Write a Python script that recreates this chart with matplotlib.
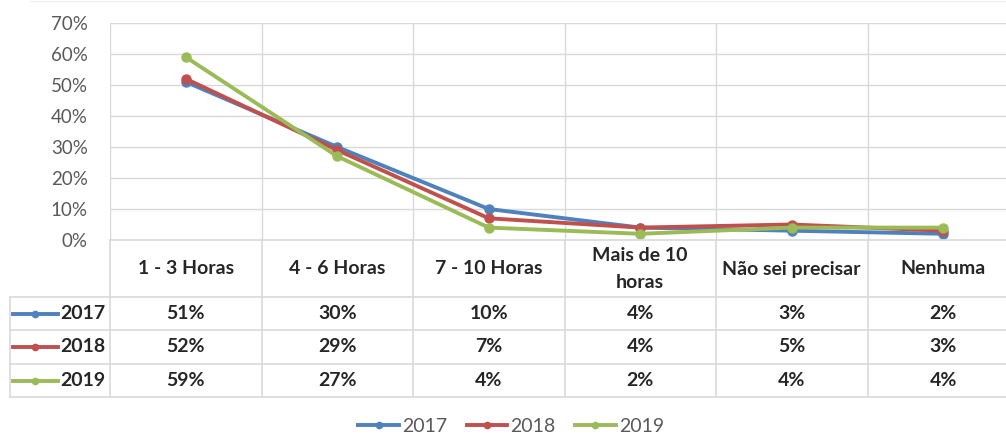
import matplotlib
matplotlib.use("Agg")
import matplotlib.pyplot as plt
from matplotlib.lines import Line2D
from matplotlib import transforms
import numpy as np

categories = ["1 - 3 Horas", "4 - 6 Horas", "7 - 10 Horas", "Mais de 10\nhoras", "Não sei precisar", "Nenhuma"]
series_names = ["2017", "2018", "2019"]
v2017 = [51, 30, 10, 4, 3, 2]
v2018 = [52, 29, 7, 4, 5, 3]
v2019 = [59, 27, 4, 2, 4, 4]
values = [v2017, v2018, v2019]
colors = ["#4F81BD", "#C0504D", "#9BBB59"]
yticks = [0, 10, 20, 30, 40, 50, 60, 70]

W, H = 1006, 437
fig = plt.figure(figsize=(W / 100, H / 100), dpi=100)
plt.rcParams['font.family'] = ['Lato', 'DejaVu Sans']

def fx(x):
    return x / W

def fy(y):
    return 1 - y / H

FS = 14
TXT = "#262626"
plot_left, plot_right, plot_top, plot_bottom = 110, 1019, 23, 240
ax = fig.add_axes([fx(plot_left), fy(plot_bottom), (plot_right - plot_left) / W, (plot_bottom - plot_top) / H])
n = len(categories)
ax.set_xlim(0, n)
ax.set_ylim(0, 70)
for s in ax.spines.values():
    s.set_visible(False)
ax.set_yticks(yticks)
ax.set_yticklabels([f"{t}%" for t in yticks], color="#595959", fontsize=13.5)
ax.set_xticks(range(n + 1))
ax.set_xticklabels([])
ax.tick_params(length=0, pad=16)
ax.grid(True, color="#D9D9D9", linewidth=1)
ax.set_axisbelow(True)

xs = np.arange(n) + 0.5
for name, vals, c in zip(series_names, values, colors):
    ax.plot(xs, vals, color=c, linewidth=2.8, marker="o", markersize=6.5, label=name,
            solid_capstyle="round", clip_on=False, zorder=3)

grid_c = "#D9D9D9"
fig.add_artist(Line2D([fx(30), fx(W)], [fy(1), fy(1)], color="#F0F0F0", linewidth=1))
# table lines
rows_y = [240, 297, 330, 364, 397]
for i, y in enumerate(rows_y):
    x0 = plot_left if i == 0 else 10
    fig.add_artist(Line2D([fx(x0), fx(W + 20)], [fy(y), fy(y)], color=grid_c, linewidth=1.2))
fig.add_artist(Line2D([fx(10), fx(10)], [fy(297), fy(397)], color=grid_c, linewidth=1.2))
bt = transforms.blended_transform_factory(ax.transData, fig.transFigure)
for i in range(n + 1):
    fig.add_artist(Line2D([i, i], [fy(240), fy(397)], color=grid_c, linewidth=1.2, transform=bt))

# header
for i, cat in enumerate(categories):
    fig.text(i + 0.5, fy(269), cat, transform=bt, ha="center", va="center",
             fontsize=FS, fontweight="bold", color=TXT, linespacing=1.65)

# data rows
row_centers = [313.5, 347, 380.5]
for r, (name, vals, c) in enumerate(zip(series_names, values, colors)):
    yc = fy(row_centers[r])
    for i, v in enumerate(vals):
        fig.text(i + 0.5, yc, f"{v}%", transform=bt, ha="center", va="center",
                 fontsize=FS, fontweight="bold", color=TXT)
    fig.add_artist(Line2D([fx(13), fx(58)], [yc, yc], color=c, linewidth=2.8))
    fig.add_artist(Line2D([fx(35)], [yc], color=c, marker="o", markersize=4.5, linestyle="none"))
    fig.text(fx(60), yc, name, ha="left", va="center", fontsize=FS, fontweight="bold", color=TXT)

handles = [Line2D([0], [0], color=c, linewidth=2.8, marker="o", markersize=4.5) for c in colors]
fig.legend(handles, series_names, loc="center", bbox_to_anchor=(fx(511), fy(426)), ncol=3,
           frameon=False, fontsize=FS, handlelength=2.1, columnspacing=1.0, handletextpad=0.15,
           labelcolor="#595959")

fig.savefig("out.png", dpi=100)
